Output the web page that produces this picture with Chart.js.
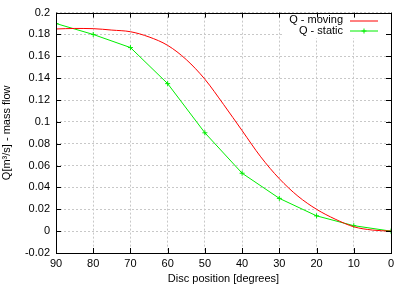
<!DOCTYPE html>
<html>
<head>
    <title>Mass flow vs disc position</title>
    <style>
        body {
            margin: 0;
            background: white;
        }
        canvas {
            display: block;
        }
    </style>
</head>
<body>
    <canvas id="flowChart" width="409" height="286"></canvas>

    <script src="https://cdn.jsdelivr.net/npm/chart.js"></script>
    <script>
        // data
        const staticDeg = [90, 80, 70, 60, 50, 40, 30, 20, 10, 0];
        const staticQ = [0.19, 0.18, 0.168, 0.135, 0.09, 0.053, 0.03, 0.014, 0.005, 0.0];

        const movingDeg = [90, 85, 80, 75, 70, 65, 60, 55, 50, 45, 40, 35, 30, 25, 20, 15, 10, 5, 0];
        const movingQ = [0.185, 0.1855, 0.1853, 0.184, 0.1825, 0.1777, 0.170, 0.157, 0.139, 0.116,
                         0.092, 0.068, 0.048, 0.032, 0.020, 0.011, 0.004, 0.001, 0.0];

        const xTicks = [90, 80, 70, 60, 50, 40, 30, 20, 10, 0];
        const yTicks = [-0.02, 0, 0.02, 0.04, 0.06, 0.08, 0.1, 0.12, 0.14, 0.16, 0.18, 0.2];

        const seriesNames = ['Q - moving', 'Q - static'];
        const red = '#ff0000';
        const green = '#00ee00';
        const font = 'Liberation Sans, Arial, sans-serif';

        // gnuplot style frame with inward ticks on all sides, plus an opaque key
        const framePlugin = {
            id: 'frame',
            beforeDatasetsDraw(chart) {
                const ctx = chart.ctx;
                ctx.save();
                ctx.fillStyle = '#fff';
                ctx.fillRect(283, 13, 105, 25);
                ctx.restore();
            },
            afterDraw(chart) {
                const ctx = chart.ctx;
                const a = chart.chartArea;
                const xs = chart.scales.x, ys = chart.scales.y;
                ctx.save();
                ctx.strokeStyle = '#000';
                ctx.lineWidth = 1;
                ctx.strokeRect(Math.round(a.left) + 0.5, Math.round(a.top) + 0.5,
                    Math.round(a.right - a.left), Math.round(a.bottom - a.top));
                ctx.beginPath();
                xTicks.forEach(v => {
                    const px = Math.round(xs.getPixelForValue(v)) + 0.5;
                    ctx.moveTo(px, a.bottom); ctx.lineTo(px, a.bottom - 5);
                    ctx.moveTo(px, a.top); ctx.lineTo(px, a.top + 5);
                });
                yTicks.forEach(v => {
                    const py = Math.round(ys.getPixelForValue(v)) + 0.5;
                    ctx.moveTo(a.left, py); ctx.lineTo(a.left + 5, py);
                    ctx.moveTo(a.right, py); ctx.lineTo(a.right - 5, py);
                });
                ctx.stroke();

                // key
                ctx.font = '11px ' + font;
                ctx.fillStyle = '#000';
                ctx.textAlign = 'right';
                ctx.textBaseline = 'middle';
                const keyX = 343, y1 = 20, y2 = 30.5;
                ctx.fillText(seriesNames[0], keyX, y1);
                ctx.fillText(seriesNames[1], keyX, y2);
                ctx.strokeStyle = red;
                ctx.beginPath();
                ctx.moveTo(350, 21); ctx.lineTo(378, 21);
                ctx.stroke();
                ctx.strokeStyle = green;
                ctx.beginPath();
                ctx.moveTo(350, 31); ctx.lineTo(378, 31);
                ctx.moveTo(361.5, 31); ctx.lineTo(366.5, 31);
                ctx.moveTo(364, 28.5); ctx.lineTo(364, 33.5);
                ctx.stroke();
                ctx.restore();
            }
        };

        const ctx = document.getElementById('flowChart').getContext('2d');
        new Chart(ctx, {
            type: 'line',
            data: {
                datasets: [{
                    label: seriesNames[0],
                    data: movingDeg.map((d, i) => ({ x: d, y: movingQ[i] })),
                    borderColor: red,
                    borderWidth: 1,
                    pointRadius: 0,
                    cubicInterpolationMode: 'monotone',
                    fill: false
                }, {
                    label: seriesNames[1],
                    data: staticDeg.map((d, i) => ({ x: d, y: staticQ[i] })),
                    borderColor: green,
                    backgroundColor: green,
                    borderWidth: 1,
                    pointStyle: 'cross',
                    pointRadius: 2.5,
                    pointBorderWidth: 1,
                    tension: 0,
                    fill: false
                }]
            },
            options: {
                responsive: false,
                animation: false,
                devicePixelRatio: 1,
                layout: { padding: { top: 12, right: 18, left: 0, bottom: 0 } },
                plugins: {
                    legend: { display: false },
                    tooltip: { enabled: false }
                },
                scales: {
                    x: {
                        type: 'linear',
                        reverse: true,
                        min: 0,
                        max: 90,
                        afterBuildTicks: s => { s.ticks = xTicks.map(v => ({ value: v })); },
                        afterFit: s => { s.height = 33; },
                        grid: {
                            color: '#c8c8c8',
                            drawTicks: false
                        },
                        border: { display: false, dash: [2, 2] },
                        ticks: {
                            color: '#000',
                            font: { family: font, size: 11 },
                            padding: 4,
                            maxRotation: 0,
                            autoSkip: false
                        },
                        title: {
                            display: true,
                            text: 'Disc position [degrees]',
                            color: '#000',
                            font: { family: font, size: 11 },
                            padding: { top: 2, bottom: 0 }
                        }
                    },
                    y: {
                        type: 'linear',
                        min: -0.02,
                        max: 0.2,
                        afterBuildTicks: s => { s.ticks = yTicks.map(v => ({ value: v })); },
                        afterFit: s => { s.width = 56; },
                        grid: {
                            color: '#c8c8c8',
                            drawTicks: false
                        },
                        border: { display: false, dash: [2, 2] },
                        ticks: {
                            color: '#000',
                            font: { family: font, size: 11 },
                            padding: 6,
                            autoSkip: false,
                            callback: v => String(Math.round(v * 100) / 100)
                        },
                        title: {
                            display: true,
                            text: 'Q[m³/s] - mass flow',
                            color: '#000',
                            font: { family: font, size: 11 },
                            padding: { top: 0, bottom: 0 }
                        }
                    }
                }
            },
            plugins: [framePlugin]
        });
    </script>
</body>
</html>
